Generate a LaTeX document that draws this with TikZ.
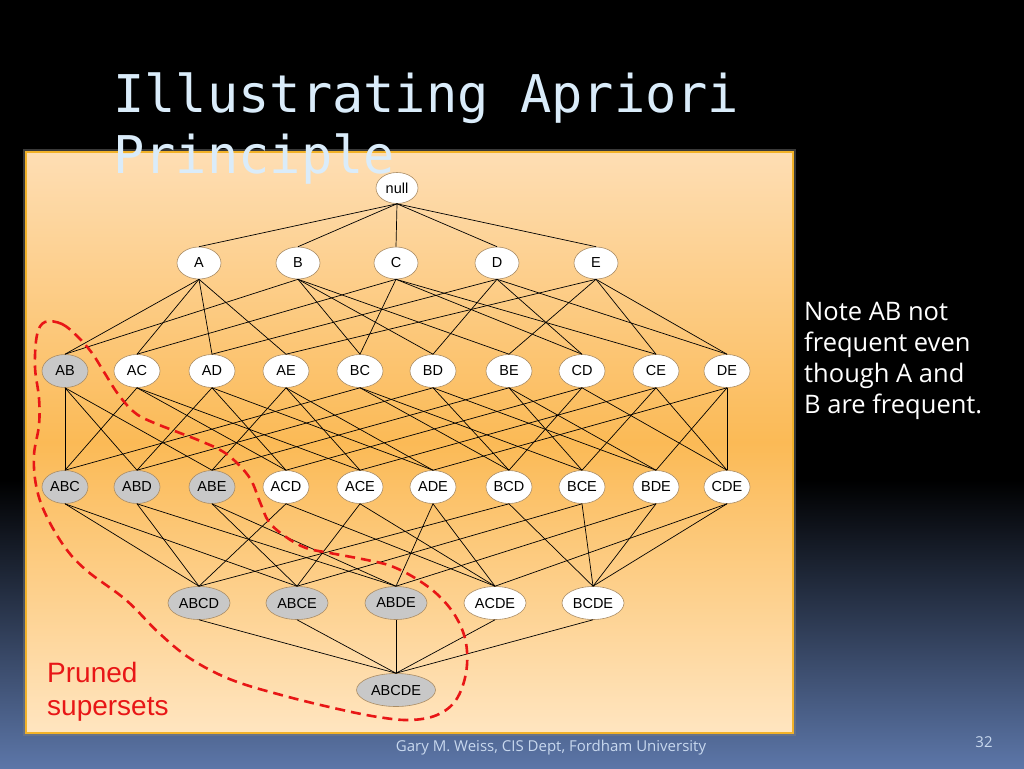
\documentclass[tikz,border=0pt]{standalone}
\usepackage{fontspec}
\usetikzlibrary{shapes.geometric}
\newfontfamily\titlefont{DejaVu Sans Mono}
\newfontfamily\notefont{Open Sans}
\newfontfamily\labelfont{Liberation Sans}
\definecolor{slideblue}{RGB}{92,118,168}
\definecolor{panetop}{RGB}{254,222,180}
\definecolor{panemid}{RGB}{251,186,86}
\definecolor{panebot}{RGB}{255,229,192}
\definecolor{panegold}{RGB}{242,178,40}
\definecolor{titleblue}{RGB}{218,236,250}
\definecolor{footblue}{RGB}{200,216,238}
\definecolor{setedge}{RGB}{170,140,100}
\definecolor{prunedgray}{RGB}{200,200,200}
\definecolor{prunedred}{RGB}{232,22,22}
\tikzset{
  itemset/.style={ellipse, draw=setedge, line width=.6pt, fill=white, inner sep=0pt,
    minimum width=46pt, minimum height=33pt, font=\labelfont\fontsize{14.5}{16}\selectfont},
  pruned/.style={itemset, fill=prunedgray},
  link/.style={black, line width=.7pt}
}
\begin{document}
\begin{tikzpicture}[x=1pt, y=-1pt]
\useasboundingbox (0,0) rectangle (1024,768);
\fill[black] (0,0) rectangle (1024,480);
\shade[top color=black, bottom color=slideblue] (0,480) rectangle (1024,768);
% panel
\draw[gray, line width=6pt, opacity=.45] (26,152) rectangle (793,733);
\shadedraw[top color=panetop, bottom color=panebot, middle color=panemid, draw=panegold, line width=1.6pt] (26,152) rectangle (793,733);
% lattice
\node[itemset, minimum width=42pt, minimum height=31pt] (null) at (397,188) {null};
\node[itemset, minimum width=44pt, minimum height=32pt] (A) at (199,263) {A};
\node[itemset, minimum width=44pt, minimum height=32pt] (B) at (298,263) {B};
\node[itemset, minimum width=44pt, minimum height=32pt] (C) at (396,263) {C};
\node[itemset, minimum width=44pt, minimum height=32pt] (D) at (497,263) {D};
\node[itemset, minimum width=44pt, minimum height=32pt] (E) at (596,263) {E};
\node[pruned] (AB) at (65,371) {AB};
\node[itemset] (AC) at (137,371) {AC};
\node[itemset] (AD) at (212,371) {AD};
\node[itemset] (AE) at (286,371) {AE};
\node[itemset] (BC) at (360,371) {BC};
\node[itemset] (BD) at (433,371) {BD};
\node[itemset] (BE) at (509,371) {BE};
\node[itemset] (CD) at (582,371) {CD};
\node[itemset] (CE) at (656,371) {CE};
\node[itemset] (DE) at (727,371) {DE};
\node[pruned] (ABC) at (65,487) {ABC};
\node[pruned] (ABD) at (137,487) {ABD};
\node[pruned] (ABE) at (212,487) {ABE};
\node[itemset] (ACD) at (286,487) {ACD};
\node[itemset] (ACE) at (360,487) {ACE};
\node[itemset] (ADE) at (433,487) {ADE};
\node[itemset] (BCD) at (509,487) {BCD};
\node[itemset] (BCE) at (582,487) {BCE};
\node[itemset] (BDE) at (656,487) {BDE};
\node[itemset] (CDE) at (727,487) {CDE};
\node[pruned, minimum width=62pt] (ABCD) at (199,603) {ABCD};
\node[pruned, minimum width=62pt] (ABCE) at (297,603) {ABCE};
\node[pruned, minimum width=62pt] (ABDE) at (396,603) {ABDE};
\node[itemset, minimum width=62pt] (ACDE) at (495,603) {ACDE};
\node[itemset, minimum width=62pt] (BCDE) at (593,603) {BCDE};
\node[pruned, minimum width=79pt] (ABCDE) at (396,690) {ABCDE};
% edges
\draw[link] (null.south) edge (A.north) edge (B.north) edge (C.north) edge (D.north) edge (E.north);
\draw[link] (A.south) edge (AB.north) edge (AC.north) edge (AD.north) edge (AE.north);
\draw[link] (B.south) edge (AB.north) edge (BC.north) edge (BD.north) edge (BE.north);
\draw[link] (C.south) edge (AC.north) edge (BC.north) edge (CD.north) edge (CE.north);
\draw[link] (D.south) edge (AD.north) edge (BD.north) edge (CD.north) edge (DE.north);
\draw[link] (E.south) edge (AE.north) edge (BE.north) edge (CE.north) edge (DE.north);
\draw[link] (AB.south) edge (ABC.north) edge (ABD.north) edge (ABE.north);
\draw[link] (AC.south) edge (ABC.north) edge (ACD.north) edge (ACE.north);
\draw[link] (AD.south) edge (ABD.north) edge (ACD.north) edge (ADE.north);
\draw[link] (AE.south) edge (ABE.north) edge (ACE.north) edge (ADE.north);
\draw[link] (BC.south) edge (ABC.north) edge (BCD.north) edge (BCE.north);
\draw[link] (BD.south) edge (ABD.north) edge (BCD.north) edge (BDE.north);
\draw[link] (BE.south) edge (ABE.north) edge (BCE.north) edge (BDE.north);
\draw[link] (CD.south) edge (ACD.north) edge (BCD.north) edge (CDE.north);
\draw[link] (CE.south) edge (ACE.north) edge (BCE.north) edge (CDE.north);
\draw[link] (DE.south) edge (ADE.north) edge (BDE.north) edge (CDE.north);
\draw[link] (ABC.south) edge (ABCD.north) edge (ABCE.north);
\draw[link] (ABD.south) edge (ABCD.north) edge (ABDE.north);
\draw[link] (ABE.south) edge (ABCE.north) edge (ABDE.north);
\draw[link] (ACD.south) edge (ABCD.north) edge (ACDE.north);
\draw[link] (ACE.south) edge (ABCE.north) edge (ACDE.north);
\draw[link] (ADE.south) edge (ABDE.north) edge (ACDE.north);
\draw[link] (BCD.south) edge (ABCD.north) edge (BCDE.north);
\draw[link] (BCE.south) edge (ABCE.north) edge (BCDE.north);
\draw[link] (BDE.south) edge (ABDE.north) edge (BCDE.north);
\draw[link] (CDE.south) edge (ACDE.north) edge (BCDE.north);
\draw[link] (ABCDE.north) edge (ABCD.south) edge (ABCE.south) edge (ABDE.south) edge (ACDE.south) edge (BCDE.south);
% pruned region
\draw[prunedred, line width=2.6pt, dash pattern=on 10pt off 6pt] plot[smooth cycle, tension=.6] coordinates {
  (45,322) (62,324) (78,337) (92,353) (104,372) (118,394) (134,412) (152,422)
  (198,440) (222,451) (238,464) (251,480) (260,502) (269,522) (286,537) (306,548)
  (330,553) (367,560) (391,566) (415,578) (438,595) (456,617) (466,643) (466,673)
  (456,700) (437,715) (410,720) (378,717) (338,709) (285,696) (232,680) (191,659)
  (159,633) (126,600) (86,570) (64,546) (45,513) (36,485) (34,455) (39,425)
  (39,398) (35,367) (37,335)};
\node[anchor=base west, align=left, text=prunedred, font=\labelfont\fontsize{28}{33}\selectfont, inner sep=0pt] (prunedlabel) at (47,715) {Pruned\\supersets};
% title and texts
\node[anchor=base west, align=left, text=titleblue, font=\titlefont\fontsize{52}{61}\selectfont, inner sep=0pt] (title) at (113,173) {Illustrating Apriori\\Principle};
\node[anchor=base west, align=left, text=white, font=\notefont\fontsize{25.5}{31}\selectfont, inner sep=0pt] (note) at (804,413) {Note AB not\\frequent even\\though A and\\B are frequent.};
\node[anchor=base, text=footblue, font=\notefont\fontsize{15}{18}\selectfont, inner sep=0pt] (footer) at (551,751) {Gary M. Weiss, CIS Dept, Fordham University};
\node[anchor=base, text=footblue, font=\notefont\fontsize{15}{18}\selectfont, inner sep=0pt] (pageno) at (984,747) {32};
\end{tikzpicture}
\end{document}
